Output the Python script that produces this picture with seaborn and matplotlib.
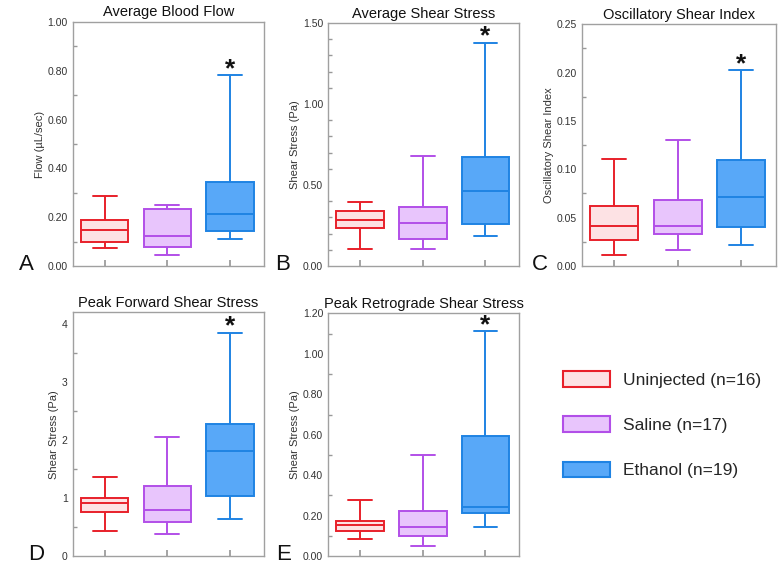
import numpy as np
import pandas as pd
import matplotlib
matplotlib.use("Agg")
import matplotlib.pyplot as plt
import seaborn as sns
from matplotlib.patches import Patch
from matplotlib.ticker import MultipleLocator, FormatStrFormatter

sns.set_theme(style="white")
plt.rcParams['font.family'] = ['Liberation Sans', 'DejaVu Sans']

groups = ['Uninjected', 'Saline', 'Ethanol']
legend_labels = ['Uninjected (n=16)', 'Saline (n=17)', 'Ethanol (n=19)']
face_colors = ['#fde2e4', '#e8c5fc', '#58a8f8']
edge_colors = ['#e8202a', '#b24fe8', '#1f83e3']

# five-number summaries: min, q1, median, q3, max
flow = {'Uninjected': [0.075, 0.097, 0.148, 0.189, 0.286],
        'Saline':     [0.047, 0.076, 0.122, 0.232, 0.251],
        'Ethanol':    [0.110, 0.142, 0.213, 0.343, 0.782]}
avg_shear = {'Uninjected': [0.107, 0.235, 0.281, 0.342, 0.396],
             'Saline':     [0.107, 0.167, 0.266, 0.367, 0.677],
             'Ethanol':    [0.188, 0.260, 0.462, 0.671, 1.378]}
osi = {'Uninjected': [0.0114, 0.0273, 0.0414, 0.0622, 0.1108],
       'Saline':     [0.0166, 0.0331, 0.0414, 0.0687, 0.1300],
       'Ethanol':    [0.0214, 0.0404, 0.0718, 0.1091, 0.2023]}
peak_fwd = {'Uninjected': [0.427, 0.767, 0.911, 1.009, 1.360],
            'Saline':     [0.392, 0.599, 0.801, 1.216, 2.058],
            'Ethanol':    [0.640, 1.043, 1.816, 2.282, 3.856]}
peak_retro = {'Uninjected': [0.084, 0.124, 0.152, 0.172, 0.276],
              'Saline':     [0.051, 0.102, 0.142, 0.224, 0.502],
              'Ethanol':    [0.144, 0.215, 0.241, 0.593, 1.111]}

panels = [
    # data, title, ylabel, ylim, major, minor, fmt, letter, letter x, axes rect (fig fraction)
    (flow, 'Average Blood Flow', 'Flow (\u00b5L/sec)', (0, 1.0), 0.2, 0.1, '%.2f', 'A', -0.28,
     [0.093, 0.539, 0.245, 0.423]),
    (avg_shear, 'Average Shear Stress', 'Shear Stress (Pa)', (0, 1.5), 0.5, 0.1, '%.2f', 'B', -0.276,
     [0.420, 0.539, 0.245, 0.421]),
    (osi, 'Oscillatory Shear Index', 'Oscillatory Shear Index', (0, 0.25), 0.05, 0.025, '%.2f', 'C', -0.26,
     [0.745, 0.539, 0.248, 0.419]),
    (peak_fwd, 'Peak Forward Shear Stress', 'Shear Stress (Pa)', (0, 4.21), 1, 0.5, '%d', 'D', -0.234,
     [0.093, 0.036, 0.245, 0.423]),
    (peak_retro, 'Peak Retrograde Shear Stress', 'Shear Stress (Pa)', (0, 1.2), 0.2, 0.1, '%.2f', 'E', -0.27,
     [0.420, 0.036, 0.245, 0.421]),
]

fig = plt.figure(figsize=(7.81, 5.77), dpi=100)

for data, title, ylabel, ylim, major, minor, fmt, letter, lx, rect in panels:
    ax = fig.add_axes(rect)
    df = pd.DataFrame([(g, v) for g in groups for v in data[g]], columns=['group', 'value'])
    for g, fc, ec in zip(groups, face_colors, edge_colors):
        sub = df[df['group'] == g]
        sns.boxplot(data=sub, x='group', y='value', order=groups, whis=(0, 100),
                    color=fc, linecolor=ec, linewidth=1.4, width=0.76,
                    saturation=1, showfliers=False, ax=ax)
    ax.set_xlim(-0.51, 2.54)
    ax.set_ylim(*ylim)
    ax.yaxis.set_major_locator(MultipleLocator(major))
    ax.yaxis.set_minor_locator(MultipleLocator(minor))
    ax.yaxis.set_major_formatter(FormatStrFormatter(fmt))
    ax.set_xticks(range(3))
    ax.set_xticklabels([])
    ax.set_xlabel('')
    ax.set_ylabel(ylabel, fontsize=8, color='#333333', labelpad=2)
    ax.set_title(title, fontsize=10.5, color='#111111', pad=4)
    ax.tick_params(axis='both', which='both', direction='in', colors='#999999',
                   labelcolor='#333333', labelsize=7.5)
    ax.tick_params(axis='y', which='major', length=4)
    ax.tick_params(axis='y', which='minor', length=3, left=True)
    ax.tick_params(axis='x', length=4, bottom=True)
    for sp in ax.spines.values():
        sp.set_color('#a0a0a0')
        sp.set_linewidth(1)
    # significance star above ethanol whisker
    ax.annotate('*', xy=(2, data['Ethanol'][4]), xytext=(0, -0.5), textcoords='offset points',
                ha='center', va='baseline', fontsize=19, fontweight='bold', color='#111111')
    ax.text(lx, -0.016, letter, transform=ax.transAxes, fontsize=16, ha='left', va='baseline',
            color='#111111')

handles = [Patch(facecolor=fc, edgecolor=ec, linewidth=1.5) for fc, ec in zip(face_colors, edge_colors)]
fig.legend(handles, legend_labels, loc='upper left', bbox_to_anchor=(0.721, 0.357),
           frameon=False, fontsize=12.5, handlelength=2.7, handleheight=1.0,
           labelspacing=1.65, handletextpad=0.75, borderpad=0, borderaxespad=0)

fig.savefig('out.png', dpi=100)
